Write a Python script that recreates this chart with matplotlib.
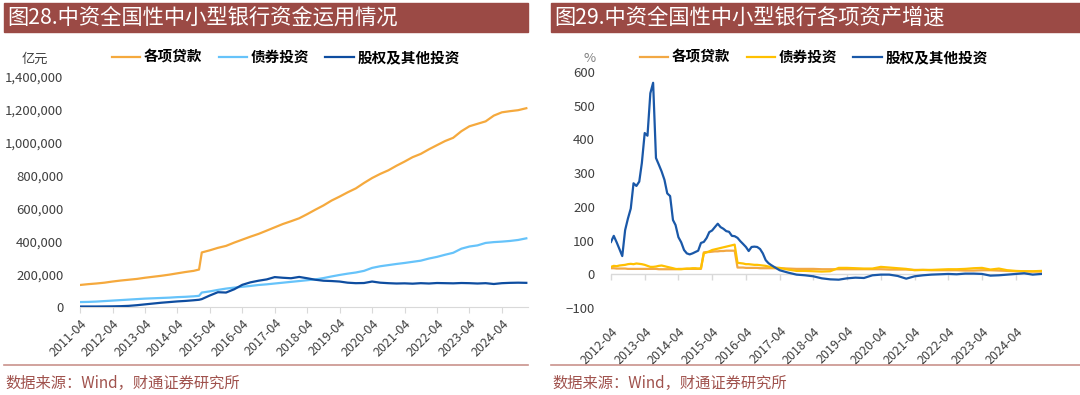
import matplotlib
matplotlib.use('Agg')
import matplotlib.pyplot as plt
import pandas as pd
from matplotlib.patches import Rectangle
from matplotlib.lines import Line2D
from matplotlib.ticker import FuncFormatter

plt.rcParams['font.family'] = ['Noto Sans CJK SC', 'DejaVu Sans']

# ---- data: 图28 资金运用 (亿元) ----
left_dates = (list(pd.date_range('2011-04-01', '2014-10-01', freq='3MS'))
              + [pd.Timestamp('2014-12-01')]
              + list(pd.date_range('2015-01-01', '2025-01-01', freq='3MS')))
loans = [134000, 139000, 143000, 148000, 155000, 161000, 166000, 171000, 178000, 184000,
         190000, 197000, 205000, 213000, 220000, 228000,
         332000, 345000, 360000, 372000, 392000, 410000, 428000, 445000, 465000, 485000,
         505000, 522000, 540000, 565000, 592000, 618000, 648000, 672000, 698000, 722000,
         755000, 785000, 810000, 832000, 860000, 885000, 912000, 932000, 960000, 985000,
         1010000, 1030000, 1070000, 1100000, 1115000, 1130000, 1165000, 1185000, 1192000,
         1198000, 1210000]
bonds = [30000, 31000, 33000, 36000, 39000, 42000, 45000, 48000, 51000, 53000,
         55000, 57000, 60000, 62000, 65000, 68000,
         88000, 95000, 104000, 112000, 118000, 123000, 128000, 134000, 138000, 143000,
         148000, 153000, 158000, 163000, 168000, 176000, 186000, 195000, 203000, 210000,
         220000, 238000, 248000, 255000, 262000, 268000, 275000, 282000, 295000, 305000,
         318000, 330000, 355000, 368000, 375000, 390000, 395000, 398000, 402000,
         408000, 418000]
equity = [3000, 3000, 3000, 3500, 4000, 5000, 7000, 11000, 16000, 21000,
          26000, 30000, 34000, 37000, 41000, 44000,
          48000, 70000, 90000, 88000, 108000, 135000, 150000, 160000, 168000, 182000,
          178000, 175000, 183000, 175000, 166000, 160000, 158000, 155000, 148000, 145000,
          146000, 155000, 148000, 145000, 143000, 144000, 142000, 145000, 143000, 146000,
          145000, 144000, 146000, 145000, 143000, 145000, 140000, 145000, 147000,
          148000, 147000]
left_ticks = [f'{y}-04' for y in range(2011, 2025)]

# ---- data: 图29 各项资产增速 (%) ----
right_dates = (list(pd.date_range('2012-04-01', '2016-12-01', freq='MS'))
               + list(pd.date_range('2017-01-01', '2025-01-01', freq='3MS')))
loans_g = [18, 18, 17, 17, 17, 17, 16, 16, 16,
           16, 16, 16, 16, 16, 16, 16, 16, 15, 15, 15, 15,
           15, 15, 15, 16, 16, 16, 16, 16, 16, 16, 16, 16,
           65, 66, 66, 67, 68, 68, 69, 69, 70, 70, 70, 70,
           20, 20, 20, 19, 19, 19, 19, 19, 18, 18, 18, 18,
           18, 18, 17, 16, 16, 16, 15, 15, 15, 15, 15, 15, 15, 15, 14, 14,
           14, 13, 13, 12, 12, 12, 12, 11, 11, 12, 12, 11, 10, 9, 9, 8, 8]
bonds_g = [22, 25, 24, 26, 27, 28, 30, 31, 30,
           32, 31, 30, 28, 25, 22, 22, 23, 25, 26, 24, 22,
           20, 18, 16, 15, 15, 16, 17, 17, 18, 18, 17, 18,
           62, 65, 68, 72, 74, 76, 78, 80, 82, 84, 86, 88,
           34, 33, 32, 30, 30, 29, 28, 28, 27, 26, 25, 23,
           21, 19, 14, 10, 10, 9, 8, 9, 19, 19, 18, 17, 17, 22, 20, 18,
           16, 12, 13, 13, 14, 15, 15, 16, 18, 19, 14, 17, 12, 10, 9, 9, 10]
equity_g = [96, 114, 95, 75, 54, 131, 165, 195, 270,
            262, 275, 330, 419, 411, 537, 568, 345, 325, 305, 280, 240,
            232, 161, 146, 110, 95, 72, 62, 59, 62, 66, 70, 93,
            96, 108, 125, 130, 140, 150, 140, 135, 128, 126, 114, 113,
            108, 98, 90, 81, 69, 81, 82, 81, 75, 62, 42, 33,
            27, 12, 5, -1, -3, -6, -12, -15, -16, -12, -10, -11, -3, -1, -1, -5,
            -13, -6, -3, -1, 0, 1, 0, 2, 2, 1, -4, -3, -1, 1, 3, -1, 1]
right_ticks = [f'{y}-04' for y in range(2012, 2025)]

W, H = 1080, 395
fig = plt.figure(figsize=(W / 100, H / 100), dpi=100)
BAR = '#9B4A45'
GRID = '#D9D9D9'
TXT = '#404040'


def fx(px):
    return px / W


def fy(py):
    return 1 - py / H


# header bars, titles, footer
for x0, x1, title in [(4, 528, '图28.中资全国性中小型银行资金运用情况'),
                      (551, 1080, '图29.中资全国性中小型银行各项资产增速')]:
    fig.patches.append(Rectangle((fx(x0), fy(32)), fx(x1 - x0), 29 / H,
                                 transform=fig.transFigure, color=BAR, zorder=0))
    fig.text(fx(x0 + 3), fy(18), title, color='white', fontsize=15.3, va='center')
    fig.add_artist(Line2D([fx(x0), fx(x1)], [fy(365), fy(365)], color='#C9928C', lw=1.2))
    fig.text(fx(x0 + 1), fy(383), '数据来源：Wind，财通证券研究所', color='#A0524D',
             fontsize=11, va='center')

leg_kw = dict(loc='center left', bbox_transform=fig.transFigure, ncol=3, frameon=False,
              borderpad=0, borderaxespad=0, handlelength=1.95, handletextpad=0.25,
              columnspacing=1.1, prop={'size': 10.5, 'weight': 'bold'})

# ---- left chart ----
ax1 = fig.add_axes([fx(80), fy(307), fx(448), 230 / H])
l1, = ax1.plot(left_dates, loans, color='#F5A93D', lw=1.6, label='各项贷款', zorder=3)
l2, = ax1.plot(left_dates, bonds, color='#66C3FA', lw=1.6, label='债券投资', zorder=3)
l3, = ax1.plot(left_dates, equity, color='#0E4DA0', lw=1.6, label='股权及其他投资', zorder=4)
ax1.set_ylim(0, 1400000)
ax1.set_yticks(range(0, 1400001, 200000))
ax1.yaxis.set_major_formatter(FuncFormatter(lambda v, p: f'{int(v):,}'))
ax1.set_xlim(pd.Timestamp('2011-04-01'), pd.Timestamp('2025-01-20'))
ax1.set_xticks(pd.to_datetime(left_ticks))
ax1.set_xticklabels(left_ticks, rotation=45, ha='right', va='top', rotation_mode='anchor')
fig.text(fx(22), fy(59), '亿元', fontsize=9.5, color=TXT, va='center')
ax1.legend(handles=[l1, l2, l3], bbox_to_anchor=(fx(112), fy(57)), **leg_kw)

# ---- right chart ----
ax2 = fig.add_axes([fx(611), fy(308), fx(431), 236 / H])
r1, = ax2.plot(right_dates, loans_g, color='#F2A844', lw=1.6, label='各项贷款', zorder=3)
r2, = ax2.plot(right_dates, bonds_g, color='#FFC000', lw=1.6, label='债券投资', zorder=4)
r3, = ax2.plot(right_dates, equity_g, color='#1A58A8', lw=1.6, label='股权及其他投资', zorder=5)
ax2.set_ylim(-100, 600)
ax2.set_yticks(range(-100, 601, 100))
ax2.set_xlim(pd.Timestamp('2012-04-01'), pd.Timestamp('2025-01-10'))
ax2.set_xticks(pd.to_datetime(right_ticks))
ax2.set_xticklabels(right_ticks, rotation=45, ha='right', va='top', rotation_mode='anchor')
ax2.axhline(0, color=GRID, lw=1, zorder=1)
ax2.plot(pd.to_datetime(right_ticks), [0] * len(right_ticks), ls='none', marker=3,
         ms=4, mew=1, color=GRID, zorder=1, clip_on=False)
fig.text(fx(584), fy(58), '%', fontsize=9.5, color='#7F7F7F', va='center')
ax2.legend(handles=[r1, r2, r3], bbox_to_anchor=(fx(640), fy(57)), **leg_kw)

for ax in (ax1, ax2):
    for s in ('top', 'right', 'left'):
        ax.spines[s].set_visible(False)
    ax.spines['bottom'].set_color(GRID)
    ax.tick_params(axis='y', length=0, labelsize=9.5, labelcolor=TXT, pad=12)
    ax.tick_params(axis='x', labelsize=9, labelcolor=TXT, color=GRID, length=4, pad=3)
    ax.patch.set_alpha(0)

ax2.spines['bottom'].set_visible(False)
ax2.tick_params(axis='y', pad=11.5)
ax2.tick_params(axis='x', length=0, pad=12)

fig.savefig('out.png', dpi=100)
